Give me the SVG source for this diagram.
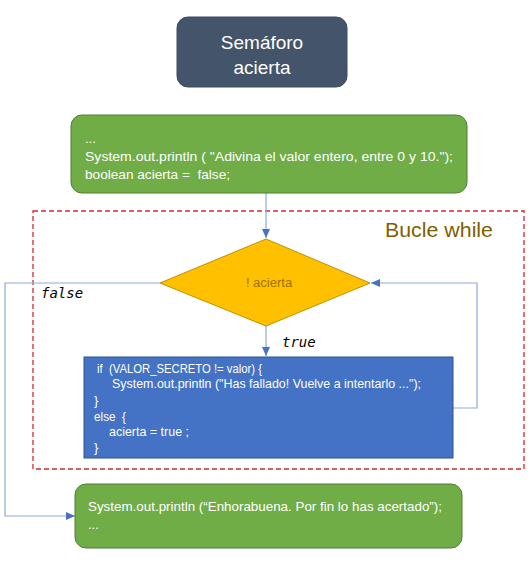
<svg xmlns="http://www.w3.org/2000/svg" width="531" height="569" viewBox="0 0 531 569">
<defs>
<marker id="arr" markerWidth="10" markerHeight="8" refX="9" refY="4" orient="auto" markerUnits="userSpaceOnUse">
<path d="M0,0 L9,4 L0,8 z" fill="#4472C4"/>
</marker>
<style>
.t{font-family:"Liberation Sans",Arial,sans-serif;fill:#fff;white-space:pre}
.code{font-size:13px}
.mono{font-family:"DejaVu Sans Mono","Liberation Mono",monospace;font-style:italic;font-size:14px;fill:#000}
.conn{fill:none;stroke:#8EA9DB;stroke-width:1.2}
</style>
</defs>
<rect width="531" height="569" fill="#fff"/>

<g id="loop-frame">
<rect x="33" y="211" width="491" height="258" fill="none" stroke="#D9262E" stroke-width="1.3" stroke-dasharray="5,3"/>
<text x="385" y="237" font-family="'Liberation Sans',Arial,sans-serif" font-size="21" fill="#7F6000" textLength="108" lengthAdjust="spacingAndGlyphs">Bucle while</text>
</g>

<g id="connectors">
<path class="conn" d="M266,193 V238" marker-end="url(#arr)"/>
<path class="conn" d="M266,326 V356" marker-end="url(#arr)"/>
<path class="conn" d="M453,408 H477 V283 H371" marker-end="url(#arr)"/>
<path class="conn" d="M160,283 H5 V516 H75" marker-end="url(#arr)"/>
<text class="mono" x="41" y="298">false</text>
<text class="mono" x="282" y="347">true</text>
</g>

<g id="semaforo">
<rect x="177" y="17" width="170" height="70" rx="11" fill="#44546A" stroke="#3A4A60" stroke-width="1"/>
<text class="t" x="262" y="49" font-size="19" text-anchor="middle">Semáforo</text>
<text class="t" x="262" y="74" font-size="19" text-anchor="middle">acierta</text>
</g>

<g id="init">
<rect x="71" y="115" width="396" height="78" rx="11" fill="#70AD47" stroke="#507E32" stroke-width="1"/>
<text class="t code" x="85" y="143">...</text>
<text class="t code" x="85" y="161" textLength="368" lengthAdjust="spacingAndGlyphs">System.out.println ( "Adivina el valor entero, entre 0 y 10.");</text>
<text class="t code" x="85" y="179" textLength="145" lengthAdjust="spacingAndGlyphs">boolean acierta =  false;</text>
</g>

<g id="condition">
<polygon points="266,239 370,283 266,326 160,283" fill="#FFC000" stroke="#BF9000" stroke-width="1"/>
<text x="269" y="287" font-family="'Liberation Sans',Arial,sans-serif" font-size="13" fill="#9A7300" text-anchor="middle">! acierta</text>
</g>

<g id="body">
<rect x="84" y="357" width="369" height="101" fill="#4472C4" stroke="#2F528F" stroke-width="1"/>
<text class="t code" x="97" y="373" textLength="165" lengthAdjust="spacingAndGlyphs">if  (VALOR_SECRETO != valor) {</text>
<text class="t code" x="112" y="388" textLength="309" lengthAdjust="spacingAndGlyphs">System.out.println ("Has fallado! Vuelve a intentarlo ...");</text>
<text class="t code" x="94" y="405">}</text>
<text class="t code" x="94" y="421" textLength="32" lengthAdjust="spacingAndGlyphs">else  {</text>
<text class="t code" x="109" y="436" textLength="80" lengthAdjust="spacingAndGlyphs">acierta = true ;</text>
<text class="t code" x="94" y="452">}</text>
</g>

<g id="end">
<rect x="75" y="484" width="387" height="64" rx="11" fill="#70AD47" stroke="#507E32" stroke-width="1"/>
<text class="t code" x="88" y="511" textLength="354" lengthAdjust="spacingAndGlyphs">System.out.println (“Enhorabuena. Por fin lo has acertado”);</text>
<text class="t code" x="88" y="529">...</text>
</g>
</svg>
